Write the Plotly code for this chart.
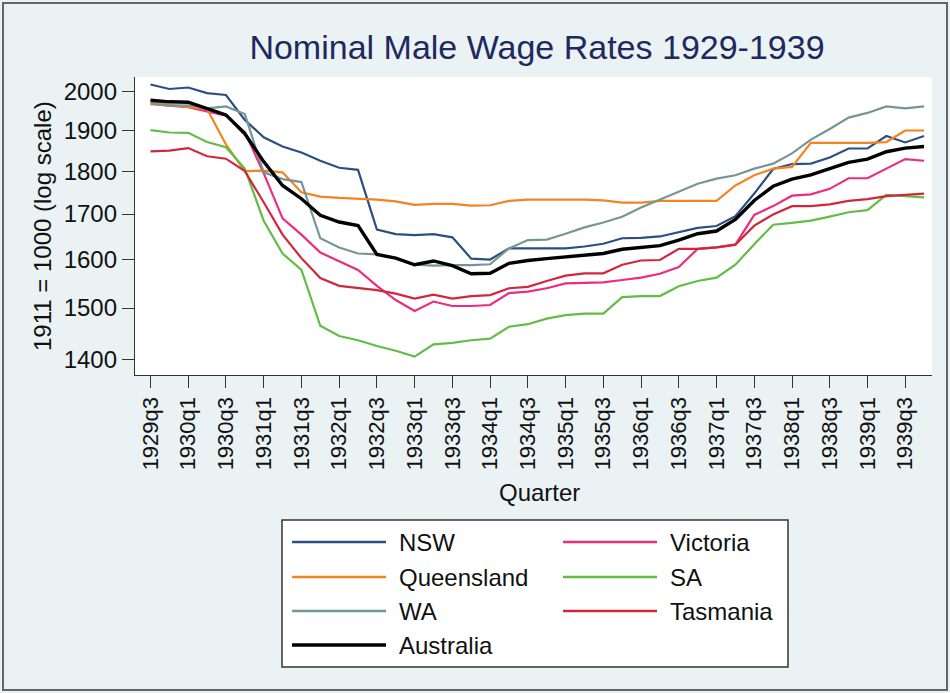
import plotly.graph_objects as go
import math

# Quarter labels 1929q3 .. 1939q4
quarters = ["1929q3", "1929q4"] + [f"{y}q{q}" for y in range(1930, 1940) for q in range(1, 5)]

nsw = [2020, 2008, 2012, 1997, 1992, 1927, 1883, 1860, 1845, 1825, 1808, 1803, 1665, 1655,
       1653, 1655, 1648, 1602, 1600, 1624, 1624, 1624, 1624, 1628, 1634, 1646, 1647, 1650,
       1660, 1669, 1673, 1695, 1747, 1805, 1817, 1818, 1833, 1855, 1855, 1886, 1870, 1886]
victoria = [1970, 1964, 1960, 1948, 1938, 1896, 1795, 1690, 1654, 1615, 1596, 1578, 1545, 1516,
            1494, 1513, 1504, 1504, 1506, 1530, 1533, 1540, 1550, 1551, 1552, 1557, 1562, 1570,
            1584, 1623, 1626, 1632, 1698, 1718, 1742, 1745, 1758, 1783, 1783, 1806, 1829, 1825]
queensland = [1972, 1966, 1960, 1955, 1865, 1800, 1801, 1797, 1750, 1740, 1737, 1735, 1733, 1729,
              1721, 1723, 1723, 1719, 1720, 1730, 1733, 1733, 1733, 1733, 1731, 1726, 1726, 1730,
              1730, 1730, 1730, 1766, 1790, 1806, 1810, 1869, 1869, 1869, 1869, 1871, 1900, 1900]
sa = [1901, 1895, 1894, 1871, 1858, 1806, 1685, 1613, 1578, 1465, 1445, 1437, 1426, 1417,
      1406, 1429, 1432, 1437, 1440, 1463, 1468, 1479, 1486, 1489, 1489, 1522, 1524, 1524,
      1544, 1555, 1562, 1589, 1633, 1676, 1680, 1685, 1694, 1704, 1709, 1744, 1741, 1738]
wa = [1968, 1964, 1965, 1957, 1962, 1942, 1797, 1781, 1774, 1646, 1626, 1613, 1611, 1603,
      1589, 1587, 1588, 1588, 1590, 1624, 1642, 1643, 1656, 1670, 1681, 1694, 1715, 1733,
      1752, 1770, 1782, 1790, 1806, 1818, 1843, 1877, 1904, 1933, 1945, 1962, 1957, 1962]
tasmania = [1848, 1850, 1856, 1836, 1830, 1800, 1727, 1654, 1603, 1561, 1545, 1540, 1536, 1529,
            1519, 1527, 1519, 1524, 1526, 1540, 1543, 1555, 1566, 1571, 1571, 1589, 1598, 1599,
            1623, 1623, 1626, 1632, 1674, 1699, 1718, 1718, 1722, 1730, 1734, 1741, 1744, 1747]
australia = [1978, 1974, 1973, 1957, 1940, 1892, 1823, 1766, 1735, 1697, 1682, 1674, 1611, 1603,
             1589, 1597, 1587, 1570, 1571, 1592, 1598, 1602, 1606, 1610, 1613, 1622, 1626, 1630,
             1642, 1656, 1662, 1688, 1731, 1764, 1781, 1791, 1806, 1821, 1829, 1847, 1856, 1860]

y_ticks = [1400, 1500, 1600, 1700, 1800, 1900, 2000]

series = [
    ("NSW", nsw, "#2C4F82", 2.2),
    ("Victoria", victoria, "#EC2C7E", 2.2),
    ("Queensland", queensland, "#F5831F", 2.2),
    ("SA", sa, "#62BD45", 2.2),
    ("WA", wa, "#759696", 2.2),
    ("Tasmania", tasmania, "#D0283A", 2.2),
    ("Australia", australia, "#000000", 3.4),
]

FONT = "Liberation Sans, Arial, Helvetica, sans-serif"
W, H = 950, 693
L, R, T, B = 135, 932, 77, 375  # plot area in pixels


def px(x):
    return (x - L) / (R - L)


def py(y):
    return (B - y) / (B - T)


fig = go.Figure()
for name, vals, color, width in series:
    fig.add_trace(go.Scatter(x=quarters, y=vals, mode="lines", name=name,
                             line=dict(color=color, width=width), showlegend=False))

shapes = []
annotations = []

# legend box
shapes.append(dict(type="rect", xref="paper", yref="paper", x0=px(282), x1=px(788),
                   y0=py(520), y1=py(667), line=dict(color="#333333", width=1.5),
                   fillcolor="white", layer="above"))
# two legend columns: NSW/Queensland/WA/Australia then Victoria/SA/Tasmania
legend_order = ["NSW", "Queensland", "WA", "Australia", "Victoria", "SA", "Tasmania"]
lookup = {s[0]: s for s in series}
rows_y = [542, 577, 611, 645]
for k, name in enumerate(legend_order):
    col, row = (0, k) if k < 4 else (1, k - 4)
    x0, x1, xt = (292, 386, 397) if col == 0 else (563, 657, 668)
    yy = rows_y[row]
    _, _, color, width = lookup[name]
    shapes.append(dict(type="line", xref="paper", yref="paper", x0=px(x0), x1=px(x1),
                       y0=py(yy), y1=py(yy), line=dict(color=color, width=width + 0.3),
                       layer="above"))
    annotations.append(dict(text=name, xref="paper", yref="paper", x=px(xt), y=py(yy),
                            xanchor="left", yanchor="middle", showarrow=False,
                            font=dict(family=FONT, size=24, color="#111111")))

# outer frame
shapes.append(dict(type="rect", xref="paper", yref="paper", x0=px(3), x1=px(947),
                   y0=py(3), y1=py(690), line=dict(color="#666666", width=2), layer="below"))

# axis titles
annotations.append(dict(text="1911 = 1000 (log scale)", xref="paper", yref="paper",
                        x=px(42), y=py(226), textangle=-90, showarrow=False,
                        xanchor="center", yanchor="middle",
                        font=dict(family=FONT, size=24, color="#111111")))
annotations.append(dict(text="Quarter", xref="paper", yref="paper", x=px(539), y=py(492),
                        showarrow=False, xanchor="center", yanchor="middle",
                        font=dict(family=FONT, size=24, color="#111111")))

fig.update_layout(
    width=W, height=H,
    margin=dict(l=L, r=W - R, t=T, b=H - B, pad=0),
    paper_bgcolor="#EAF2F4",
    plot_bgcolor="white",
    title=dict(text="Nominal Male Wage Rates 1929-1939", x=px(537), xref="paper",
               xanchor="center", y=1 - 47 / H, yanchor="middle",
               font=dict(family=FONT, size=34, color="#1E2A5E")),
    shapes=shapes,
    annotations=annotations,
    showlegend=False,
)

fig.update_xaxes(
    type="category", range=[-0.82, 41.42],
    tickmode="array", tickvals=quarters[::2], ticktext=quarters[::2],
    tickangle=-90, ticks="outside", ticklen=12, tickwidth=1.3, tickcolor="#333333",
    showline=True, linecolor="#333333", linewidth=1.3, showgrid=False, zeroline=False,
    tickfont=dict(family=FONT, size=22, color="#111111"),
)
fig.update_yaxes(
    type="log", range=[math.log10(1372), 3.3097],
    tickmode="array", tickvals=y_ticks, ticktext=[str(v) for v in y_ticks],
    ticks="outside", ticklen=12, tickwidth=1.3, tickcolor="#333333",
    showline=True, linecolor="#333333", linewidth=1.3, showgrid=False, zeroline=False,
    tickfont=dict(family=FONT, size=24, color="#111111"),
)

fig.write_html("out.html")
